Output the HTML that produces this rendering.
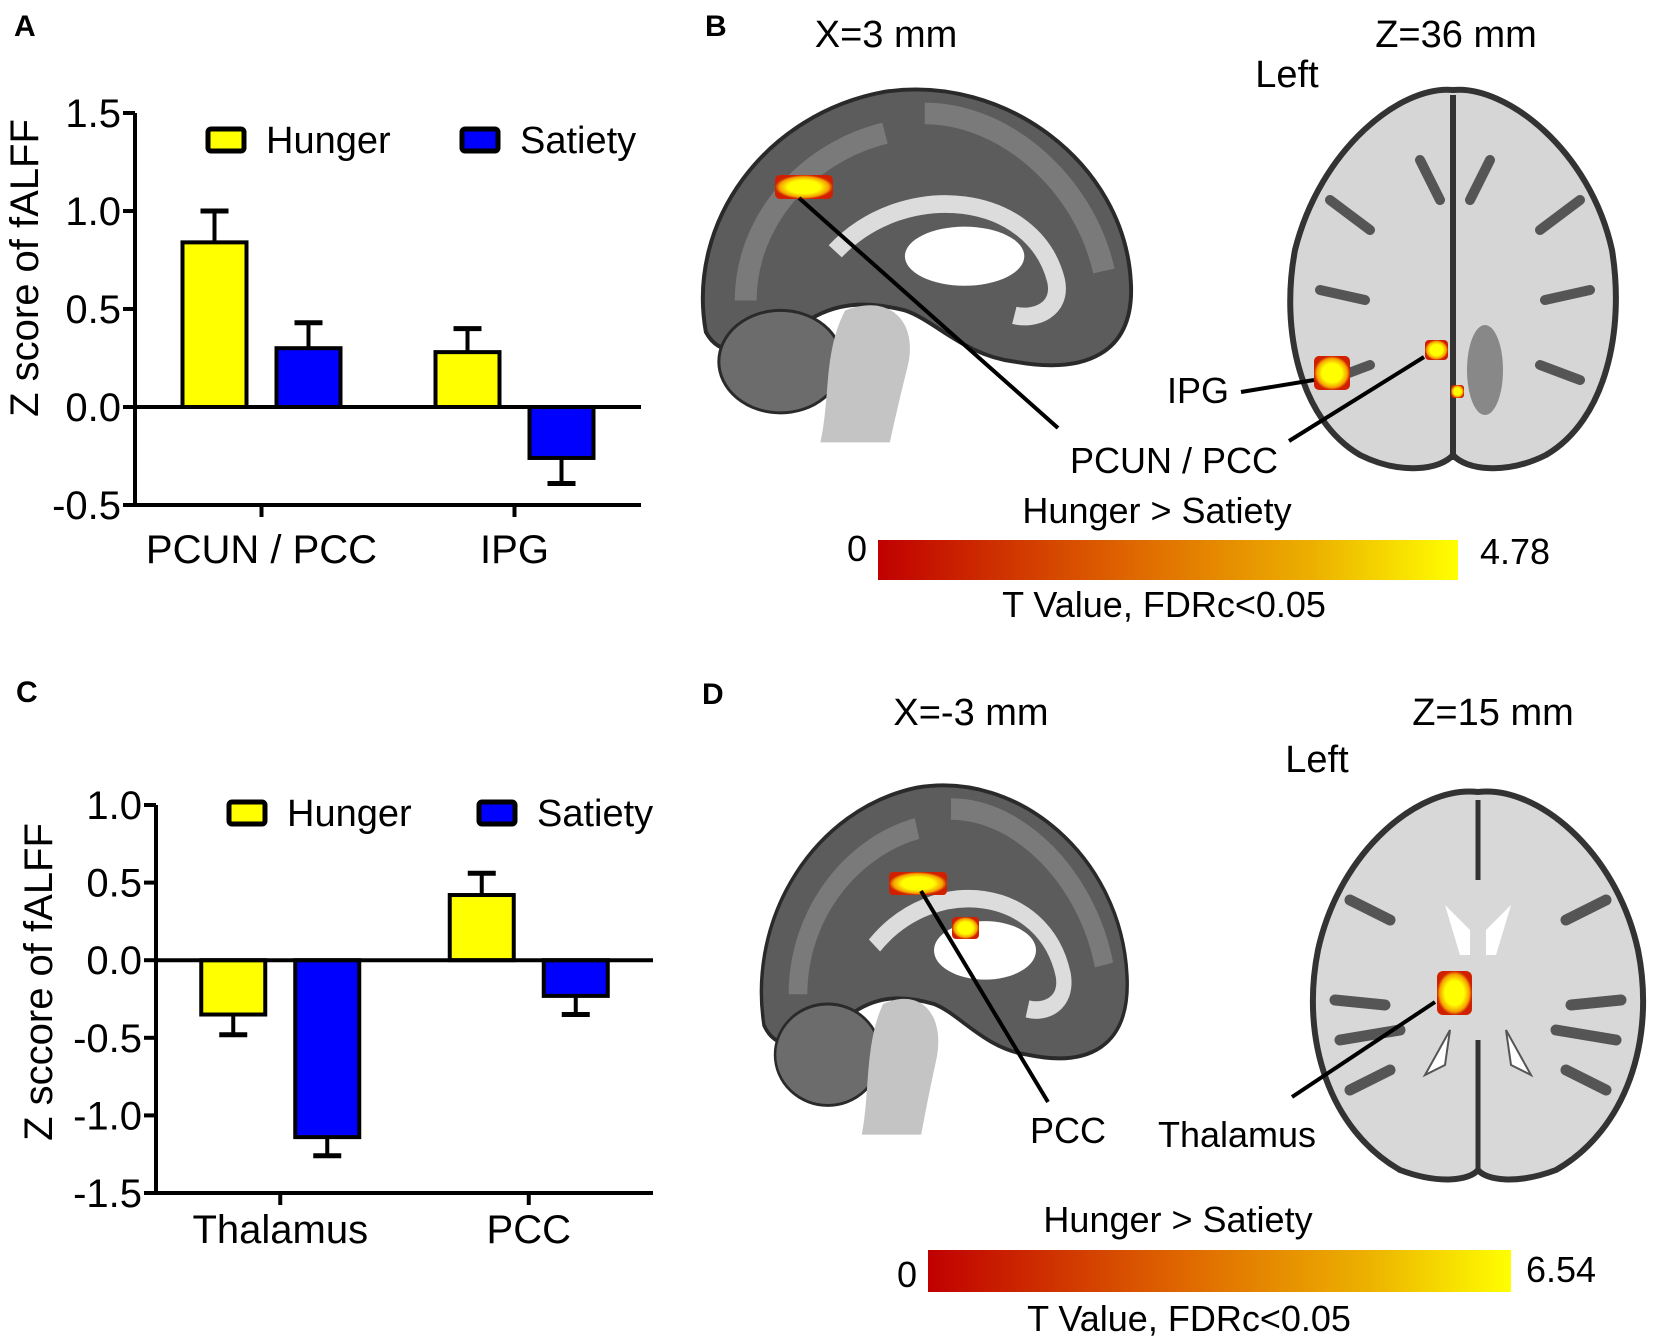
<!DOCTYPE html>
<html><head><meta charset="utf-8"><style>
html,body{margin:0;padding:0;background:#fff}
svg{display:block;font-family:"Liberation Sans",Arial,sans-serif}
</style></head><body>
<svg id="fig" width="1654" height="1344" viewBox="0 0 1654 1344" xmlns="http://www.w3.org/2000/svg">
<defs>
<linearGradient id="cbar" x1="0" x2="1" y1="0" y2="0">
<stop offset="0" stop-color="#c00000"/><stop offset="0.45" stop-color="#e06a00"/><stop offset="0.75" stop-color="#ecb000"/><stop offset="1" stop-color="#ffff00"/>
</linearGradient>
<radialGradient id="blob"><stop offset="0.55" stop-color="#ffff00"/><stop offset="0.85" stop-color="#f5a000"/><stop offset="1" stop-color="#d02000"/></radialGradient>
<g id="sag">
<path d="M20,262 C0,150 80,40 200,18 C320,0 440,90 447,210 C452,285 400,305 330,292 C280,286 250,250 220,240 C180,230 150,232 120,252 C90,272 40,300 20,262 Z" fill="#5c5c5c" stroke="#2a2a2a" stroke-width="4"/>
<path d="M60,230 C60,150 120,80 200,60 M240,40 C320,40 400,110 420,200" fill="none" stroke="#7a7a7a" stroke-width="22"/>
<path d="M150,180 C220,105 350,120 372,210 C378,240 350,250 330,245" fill="none" stroke="#dcdcdc" stroke-width="18"/>
<ellipse cx="280" cy="185" rx="60" ry="30" fill="#fff"/>
<ellipse cx="95" cy="292" rx="62" ry="52" fill="#6c6c6c" stroke="#2a2a2a" stroke-width="3"/>
<path d="M160,240 C205,222 235,252 222,300 C212,340 205,374 205,374 L135,374 C145,330 138,282 160,240Z" fill="#c4c4c4"/>
</g>
</defs>

<!-- Panel labels -->
<text x="14" y="36" font-size="30" font-weight="bold">A</text>
<text x="16" y="702" font-size="30" font-weight="bold">C</text>
<text x="705" y="36" font-size="30" font-weight="bold">B</text>
<text x="702" y="704" font-size="30" font-weight="bold">D</text>

<g id="chartA"></g>
<g id="chartC"></g>

<!-- Panel B -->
<g>
<text x="886" y="47" font-size="38" text-anchor="middle">X=3 mm</text>
<text x="1456" y="47" font-size="38" text-anchor="middle">Z=36 mm</text>
<text x="1287" y="87" font-size="38" text-anchor="middle">Left</text>
<use href="#sag" transform="translate(686,74) scale(0.995,0.985)"/>
<g>
<path d="M1453,90 C1400,85 1320,150 1295,250 C1280,330 1300,420 1360,455 C1400,475 1440,470 1453,455 C1466,470 1506,475 1546,455 C1606,420 1625,330 1612,250 C1590,150 1506,85 1453,90Z" fill="#d6d6d6" stroke="#333" stroke-width="6"/>
<path d="M1453,95 L1453,460" stroke="#333" stroke-width="6"/>
<path d="M1330,200 l40,30 M1320,290 l45,10 M1330,380 l40,-15 M1580,200 l-40,30 M1590,290 l-45,10 M1580,380 l-40,-15 M1420,160 l20,40 M1490,160 l-20,40" stroke="#555" stroke-width="10" stroke-linecap="round"/>
<ellipse cx="1485" cy="370" rx="18" ry="45" fill="#888"/>
</g>
<rect x="1314" y="356" width="36" height="34" rx="5" fill="url(#blob)"/>
<rect x="1425" y="340" width="23" height="20" rx="4" fill="url(#blob)"/>
<rect x="1451" y="385" width="13" height="13" rx="3" fill="url(#blob)"/>
<rect x="775" y="175" width="58" height="24" rx="5" fill="url(#blob)"/>
<line x1="799" y1="198" x2="1058" y2="428" stroke="#000" stroke-width="4"/>
<line x1="1289" y1="441" x2="1424" y2="357" stroke="#000" stroke-width="4"/>
<line x1="1241" y1="392" x2="1314" y2="380" stroke="#000" stroke-width="4"/>
<text x="1198" y="403" font-size="36" text-anchor="middle">IPG</text>
<text x="1174" y="473" font-size="36" text-anchor="middle">PCUN / PCC</text>
<text x="1157" y="523" font-size="36" text-anchor="middle">Hunger &gt; Satiety</text>
<rect x="878" y="540" width="580" height="40" fill="url(#cbar)"/>
<text x="857" y="561" font-size="36" text-anchor="middle">0</text>
<text x="1515" y="564" font-size="36" text-anchor="middle">4.78</text>
<text x="1164" y="617" font-size="36" text-anchor="middle">T Value, FDRc&lt;0.05</text>
</g>

<!-- Panel D -->
<g>
<text x="971" y="725" font-size="38" text-anchor="middle">X=-3 mm</text>
<text x="1493" y="725" font-size="38" text-anchor="middle">Z=15 mm</text>
<text x="1317" y="772" font-size="38" text-anchor="middle">Left</text>
<use href="#sag" transform="translate(747,770) scale(0.85,0.975)"/>
<g>
<path d="M1478,792 C1420,785 1340,850 1318,950 C1300,1040 1330,1130 1400,1170 C1440,1185 1470,1180 1478,1170 C1486,1180 1516,1185 1556,1170 C1626,1130 1656,1040 1638,950 C1616,850 1536,785 1478,792Z" fill="#d8d8d8" stroke="#333" stroke-width="6"/>
<path d="M1478,800 L1478,880 M1478,1040 L1478,1170" stroke="#333" stroke-width="5"/>
<path d="M1350,900 l40,20 M1335,1000 l50,5 M1350,1090 l40,-20 M1606,900 l-40,20 M1621,1000 l-50,5 M1606,1090 l-40,-20 M1340,1040 l60,-10 M1616,1040 l-60,-10" stroke="#555" stroke-width="11" stroke-linecap="round"/>
<path d="M1445,905 l25,25 l0,25 l-10,0 Z M1511,905 l-25,25 l0,25 l10,0 Z" fill="#fff"/>
<path d="M1450,1030 l-25,45 l20,-10 Z M1506,1030 l25,45 l-20,-10 Z" fill="#fff" stroke="#555" stroke-width="2"/>
</g>
<rect x="1437" y="971" width="35" height="44" rx="6" fill="url(#blob)"/>
<rect x="889" y="872" width="58" height="23" rx="4" fill="url(#blob)"/>
<rect x="952" y="917" width="27" height="22" rx="4" fill="url(#blob)"/>
<line x1="921" y1="891" x2="1048" y2="1102" stroke="#000" stroke-width="4"/>
<line x1="1435" y1="1002" x2="1292" y2="1097" stroke="#000" stroke-width="4"/>
<text x="1068" y="1143" font-size="36" text-anchor="middle">PCC</text>
<text x="1237" y="1147" font-size="36" text-anchor="middle">Thalamus</text>
<text x="1178" y="1232" font-size="36" text-anchor="middle">Hunger &gt; Satiety</text>
<rect x="928" y="1250" width="583" height="42" fill="url(#cbar)"/>
<text x="907" y="1287" font-size="36" text-anchor="middle">0</text>
<text x="1561" y="1282" font-size="36" text-anchor="middle">6.54</text>
<text x="1189" y="1331" font-size="36" text-anchor="middle">T Value, FDRc&lt;0.05</text>
</g>
</svg>
<script>
const categoriesA = ["PCUN / PCC", "IPG"];
const hungerA = [0.84, 0.28];
const hungerErrA = [0.16, 0.12];
const satietyA = [0.30, -0.26];
const satietyErrA = [0.13, -0.13];
const ticksA = [1.5, 1.0, 0.5, 0.0, -0.5];

const categoriesC = ["Thalamus", "PCC"];
const hungerC = [-0.35, 0.42];
const hungerErrC = [-0.13, 0.14];
const satietyC = [-1.14, -0.23];
const satietyErrC = [-0.12, -0.12];
const ticksC = [1.0, 0.5, 0.0, -0.5, -1.0, -1.5];

const NS = "http://www.w3.org/2000/svg";
function mk(parent, tag, attrs, text) {
  const el = document.createElementNS(NS, tag);
  for (const k in attrs) el.setAttribute(k, attrs[k]);
  if (text !== undefined) el.textContent = text;
  parent.appendChild(el);
  return el;
}

function drawChart(g, cfg) {
  const y = v => cfg.y0 + (cfg.vmax - v) / (cfg.vmax - cfg.vmin) * (cfg.y1 - cfg.y0);
  const zeroY = y(0);
  const ax = mk(g, "line", {x1: cfg.ax, y1: cfg.y0, x2: cfg.ax, y2: cfg.y1 + 2, stroke: "#000", "stroke-width": 4});
  
  
  cfg.ticks.forEach(t => {
    const tl = mk(g, "line", {x1: cfg.ax - 12, y1: y(t), x2: cfg.ax, y2: y(t), stroke: "#000", "stroke-width": 4});
    
    
    const tx = mk(g, "text", {x: cfg.ax - 14, y: y(t) + 14, "font-size": 40, "text-anchor": "end"}, t.toFixed(1));
    
    
  });
  const bx = mk(g, "line", {x1: cfg.ax - 12, y1: cfg.y1, x2: cfg.xr, y2: cfg.y1, stroke: "#000", "stroke-width": 4});
  
  
  const step = (cfg.xr - cfg.ax) / cfg.cats.length;
  const bw = 64, gap = 30;
  cfg.cats.forEach((c, i) => {
    const cx = cfg.ax + step * (i + 0.5);
    const xt = mk(g, "line", {x1: cx, y1: cfg.y1, x2: cx, y2: cfg.y1 + 12, stroke: "#000", "stroke-width": 4});
    
    
    const lab = mk(g, "text", {x: cx, y: cfg.labY, "font-size": 40, "text-anchor": "middle"}, c);
    
    
    const series = [[cfg.hunger[i], cfg.hErr[i], "#ffff00", "hunger-bar"], [cfg.satiety[i], cfg.sErr[i], "#0000ff", "satiety-bar"]];
    series.forEach((s, j) => {
      const x = j === 0 ? cx - gap / 2 - bw : cx + gap / 2;
      const v = s[0], top = Math.min(y(v), zeroY), h = Math.abs(y(v) - zeroY);
      const bar = mk(g, "rect", {x: x, y: top, width: bw, height: h, fill: s[2], stroke: "#000", "stroke-width": 4});
      
      
      const ex = x + bw / 2, ey = y(v + s[1]);
      const e1 = mk(g, "line", {x1: ex, y1: y(v), x2: ex, y2: ey, stroke: "#000", "stroke-width": 4});
      
      
      const e2 = mk(g, "line", {x1: ex - 14, y1: ey, x2: ex + 14, y2: ey, stroke: "#000", "stroke-width": 5});
      
      
    });
  });
  const zl = mk(g, "line", {x1: cfg.ax, y1: zeroY, x2: cfg.xr, y2: zeroY, stroke: "#000", "stroke-width": 4});
  
  
  const yt = mk(g, "text", {x: 0, y: 0, "font-size": 40, "text-anchor": "middle", transform: `translate(${cfg.ytX},${cfg.ytY}) rotate(-90)`}, cfg.ytitle);
  
  
  const lh = mk(g, "rect", {x: cfg.legX, y: cfg.legY, width: 36, height: 22, rx: 3, fill: "#ffff00", stroke: "#000", "stroke-width": 5});
  
  
  const lht = mk(g, "text", {x: cfg.legX + 58, y: cfg.legY + 24, "font-size": 38}, "Hunger");
  
  
  const ls = mk(g, "rect", {x: cfg.legX2, y: cfg.legY, width: 36, height: 22, rx: 3, fill: "#0000ff", stroke: "#000", "stroke-width": 5});
  
  
  const lst = mk(g, "text", {x: cfg.legX2 + 58, y: cfg.legY + 24, "font-size": 38}, "Satiety");
  
  
}

drawChart(document.getElementById("chartA"), {
  ax: 135, xr: 641, y0: 113, y1: 505, vmax: 1.5, vmin: -0.5,
  ticks: ticksA, cats: categoriesA, hunger: hungerA, hErr: hungerErrA, satiety: satietyA, sErr: satietyErrA,
  labY: 563, ytitle: "Z score of fALFF", ytX: 38, ytY: 268,
  legX: 208, legX2: 462, legY: 129
});
drawChart(document.getElementById("chartC"), {
  ax: 156, xr: 653, y0: 805, y1: 1193, vmax: 1.0, vmin: -1.5,
  ticks: ticksC, cats: categoriesC, hunger: hungerC, hErr: hungerErrC, satiety: satietyC, sErr: satietyErrC,
  labY: 1243, ytitle: "Z sccore of fALFF", ytX: 52, ytY: 982,
  legX: 229, legX2: 479, legY: 802
});
</script>
</body></html>
